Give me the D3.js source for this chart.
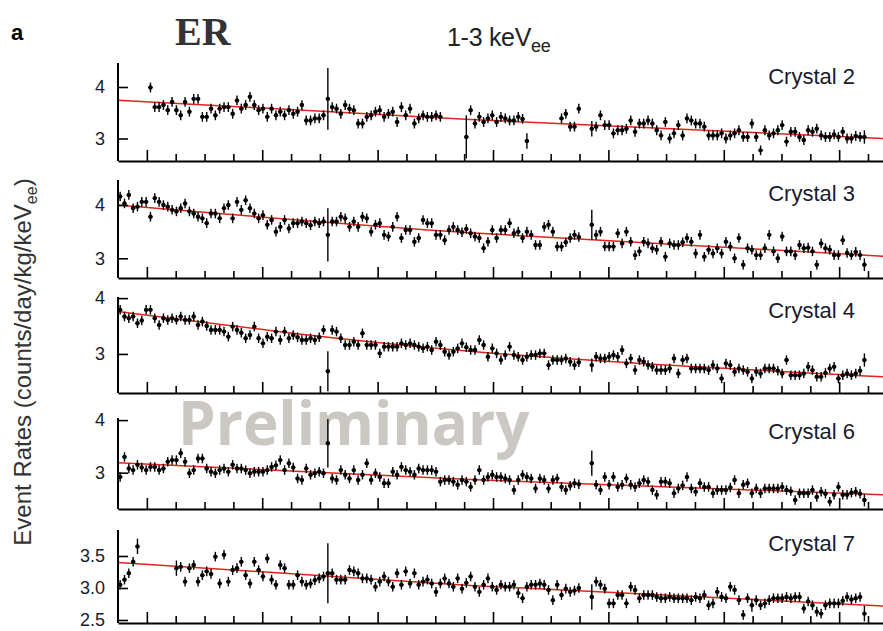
<!DOCTYPE html>
<html>
<head>
<meta charset="utf-8">
<script src="https://cdn.jsdelivr.net/npm/d3@7"></script>
<style>
  body { margin: 0; background: #fff; }
  svg { display: block; }
</style>
</head>
<body>
<svg id="chart" width="883" height="631"></svg>
<script>
// 15-day bins, index k -> bin centre at day 7.5 + 15k
const binDays = 15;
const crystals = ['Crystal 2', 'Crystal 3', 'Crystal 4', 'Crystal 6', 'Crystal 7'];

const rateC2 = [
  null,null,null,null,null,null,null,3.99,
  3.61,3.61,3.65,3.55,3.71,3.55,3.45,3.71,3.52,3.77,
  3.77,3.42,3.42,3.58,3.45,3.58,3.61,3.61,3.48,3.74,
  3.58,3.65,3.81,3.65,3.55,3.58,3.42,3.58,3.45,3.52,
  3.45,3.55,3.48,3.52,3.65,3.35,3.35,3.39,3.39,3.45,
  3.77,
  3.61,3.58,3.48,3.65,3.58,3.55,3.29,3.29,3.42,3.45,
  3.52,3.55,3.42,3.48,3.52,3.32,3.61,3.45,3.58,3.29,
  3.39,3.45,3.42,3.42,3.45,3.42,
  null,null,null,null,null,
  3.03,
  3.55,3.29,3.42,3.32,3.39,3.45,3.32,3.42,3.39,3.35,3.35,3.42,3.38,2.95,
  null,null,null,null,null,null,null,
  3.39,3.48,3.23,3.23,3.58,
  null,null,
  3.19,
  3.23,3.45,3.26,3.26,3.10,3.16,3.16,3.19,3.35,3.13,
  3.29,3.29,3.35,3.29,3.16,3.06,3.32,3.00,3.10,3.26,
  3.06,3.39,3.35,3.29,3.29,3.23,3.06,3.06,3.06,3.10,
  3.00,3.06,3.10,3.16,3.03,3.03,3.29,3.03,2.77,3.16,
  3.06,3.10,3.16,3.26,2.94,3.13,3.13,3.03,2.97,3.16,
  3.13,3.19,3.06,3.03,3.03,3.08,3.03,3.13,3.00,3.00,
  3.05,3.03,3.03
];

const rateC3 = [
  4.16,4.03,4.19,3.94,3.97,4.06,4.06,3.78,4.13,4.06,
  4.00,3.97,3.91,3.88,3.94,4.03,3.88,3.84,3.78,3.75,
  3.66,3.84,3.84,3.75,3.94,4.00,3.75,4.06,3.91,4.09,
  3.94,3.84,3.75,3.81,3.63,3.72,3.50,3.59,3.72,3.56,
  3.66,3.66,3.69,3.66,3.62,3.69,3.66,3.69,
  3.44,
  3.69,3.69,3.78,3.75,3.59,3.69,3.59,3.78,3.75,3.50,
  3.63,3.66,3.44,3.41,3.59,3.78,3.38,3.53,3.53,3.31,
  3.38,3.72,3.66,3.66,3.44,3.44,3.34,3.53,3.59,3.53,
  3.49,3.55,
  3.47,3.41,3.38,3.19,3.31,3.53,3.38,3.53,3.53,3.66,
  3.47,3.50,3.38,3.50,3.44,3.25,3.25,3.59,3.63,3.50,
  3.22,3.22,3.30,3.38,3.44,3.40,
  null,null,
  3.63,
  3.44,3.50,3.22,3.22,3.22,3.47,3.28,3.50,3.31,3.06,
  3.13,3.31,3.28,3.19,3.16,3.31,3.03,3.28,3.25,3.25,
  3.30,3.38,3.31,3.09,3.44,3.03,3.16,3.09,3.19,3.09,
  3.31,3.22,3.00,3.38,2.88,3.19,3.16,3.06,3.06,3.19,
  3.44,3.13,3.00,3.41,3.13,3.13,3.06,3.25,3.19,3.20,
  3.13,2.88,3.28,3.19,3.16,3.06,3.06,3.34,3.10,3.06,
  3.12,3.06,2.88
];

const rateC4 = [
  3.79,3.67,3.64,3.67,3.55,3.60,3.79,3.79,3.64,3.52,
  3.64,3.61,3.64,3.61,3.67,3.61,3.61,3.67,3.52,3.58,
  3.50,3.43,3.43,3.43,3.40,3.31,3.49,3.43,3.38,3.28,
  3.34,3.49,3.28,3.19,3.31,3.28,3.40,3.25,3.40,3.28,
  3.34,3.30,3.25,3.25,3.28,3.25,3.30,3.43,
  2.69,
  3.43,3.40,3.28,3.16,3.16,3.22,3.16,3.37,3.16,3.16,
  3.16,3.01,3.13,3.13,3.13,3.13,3.19,3.16,3.19,3.16,
  3.13,3.10,3.13,3.07,3.22,3.16,3.04,2.98,3.04,3.10,
  3.19,3.12,
  3.07,3.07,3.25,3.16,2.95,3.10,3.01,2.89,2.98,3.13,
  2.98,2.95,2.89,2.95,2.98,2.98,3.01,3.01,2.80,2.89,
  2.89,2.89,2.92,2.86,2.80,2.85,
  null,null,
  2.80,
  2.95,2.92,2.92,2.95,2.98,2.95,3.07,2.83,2.92,2.71,
  2.89,2.86,2.80,2.77,2.71,2.71,2.71,2.74,2.92,2.65,
  2.89,2.92,2.74,2.74,2.74,2.74,2.71,2.80,2.74,2.56,
  2.83,2.80,2.68,2.74,2.71,2.68,2.56,2.68,2.65,2.74,
  2.74,2.74,2.70,2.65,2.89,2.62,2.62,2.62,2.65,2.77,
  2.71,2.59,2.59,2.66,2.74,2.77,2.56,2.62,2.65,2.62,
  2.65,2.70,2.89
];

const rateC6 = [
  2.92,3.30,3.08,3.05,3.15,3.10,3.05,3.11,3.11,3.05,
  3.08,3.21,3.24,3.24,3.37,3.21,2.99,3.05,3.27,3.27,
  3.08,3.02,2.99,3.05,3.08,3.02,3.15,3.08,3.08,3.05,
  2.99,3.02,3.02,3.02,3.05,3.11,3.14,3.24,3.05,3.18,
  3.10,2.89,2.86,3.08,2.96,2.99,3.02,2.99,
  3.56,
  2.89,2.86,3.05,2.96,2.89,3.05,2.86,2.96,3.18,2.86,
  2.99,2.92,2.80,2.80,3.02,2.96,3.11,3.05,3.02,2.96,
  3.08,3.05,3.05,3.05,3.02,2.83,2.86,2.86,2.83,2.77,
  2.86,2.83,
  2.73,2.86,3.05,2.86,2.92,2.96,2.92,2.92,2.89,2.86,
  2.67,2.86,2.96,2.92,2.89,2.70,2.89,2.86,2.70,2.86,
  2.89,2.73,2.67,2.75,2.80,2.78,
  null,null,
  3.18,
  2.77,2.67,2.92,2.77,2.92,2.73,2.77,2.89,2.77,2.73,
  2.80,2.86,2.83,2.67,2.58,2.83,2.83,2.80,2.61,2.70,
  2.76,2.92,2.70,2.64,2.80,2.73,2.73,2.61,2.67,2.67,
  2.67,2.72,2.86,2.61,2.77,2.80,2.61,2.70,2.61,2.70,
  2.70,2.70,2.70,2.73,2.67,2.65,2.48,2.61,2.61,2.61,
  2.67,2.54,2.64,2.60,2.45,2.58,2.73,2.58,2.58,2.62,
  2.64,2.60,2.48
];

const rateC7 = [
  3.05,3.13,3.23,3.41,3.65,
  null,null,null,null,null,null,null,null,
  3.31,3.33,3.10,3.31,3.36,3.10,3.20,3.26,3.22,3.49,
  3.07,3.52,3.10,3.28,3.31,3.41,3.20,3.07,3.41,3.28,
  3.18,3.46,3.13,3.05,3.36,3.31,3.05,3.05,3.20,3.10,
  3.05,3.07,3.12,3.15,3.18,
  3.23,
  3.23,3.13,3.13,3.13,3.28,3.26,3.23,3.15,3.15,3.13,
  3.02,3.10,3.18,3.10,3.02,3.23,3.05,3.26,3.07,3.23,
  3.05,3.10,3.13,3.07,2.94,3.07,3.15,3.07,3.02,3.15,
  2.99,3.08,
  3.18,3.02,2.94,3.05,3.15,3.02,2.97,3.05,3.02,3.02,
  3.05,2.92,2.84,3.02,3.05,3.05,3.07,3.05,2.97,2.81,
  3.05,2.89,2.99,2.94,2.96,3.00,
  null,null,
  2.86,
  3.10,3.05,2.99,2.76,2.76,2.89,2.89,2.76,3.02,2.97,
  2.84,2.89,2.89,2.89,2.86,2.84,2.84,2.86,2.84,2.84,
  2.84,2.84,2.81,2.86,2.84,2.89,2.73,2.76,2.94,2.86,
  2.84,3.02,2.97,2.81,2.58,2.84,2.73,2.81,2.73,2.76,
  2.81,2.84,2.84,2.84,2.86,2.84,2.86,2.86,2.68,2.79,
  2.73,2.63,2.60,2.73,2.76,2.76,2.76,2.80,2.86,2.82,
  2.84,2.86,2.60
];

// typical one-sigma error per crystal, plus the bins with larger errors [bin, sigma]
const errBase = [0.095, 0.09, 0.085, 0.09, 0.075];
const errWideC2 = [[48, 0.6], [80, 0.42], [94, 0.15], [109, 0.15], [172, 0.13]];
const errWideC3 = [[48, 0.5], [109, 0.28], [172, 0.12]];
const errWideC4 = [[48, 0.36], [109, 0.12], [172, 0.12]];
const errWideC6 = [[48, 0.46], [109, 0.24], [172, 0.12]];
const errWideC7 = [[4, 0.12], [13, 0.12], [48, 0.47], [109, 0.2], [146, 0.1], [172, 0.12]];

// fitted decay curves, sampled at these days
const fitDays = [0, 1220, 2652];
const fitC2 = [3.745, 3.37, 3.00];
const fitC3 = [4.00, 3.48, 3.04];
const fitC4 = [3.76, 3.05, 2.59];
const fitC6 = [3.19, 2.87, 2.58];
const fitC7 = [3.40, 3.04, 2.72];

const yTicks = [[3, 4], [3, 4], [3, 4], [3, 4], [2.5, 3.0, 3.5]];
const xTicks = d3.range(100, 2700, 100);

const rates = [rateC2, rateC3, rateC4, rateC6, rateC7];
const errWide = [errWideC2, errWideC3, errWideC4, errWideC6, errWideC7];
const fits = [fitC2, fitC3, fitC4, fitC6, fitC7];

// layout
const panelTop = [63, 180, 297, 418, 530];
const panelBottom = [161, 278, 393, 509, 623];
const yDomain = [[2.563, 4.466], [2.63, 4.47], [2.30, 4.02], [2.31, 4.04], [2.453, 3.906]];

const svg = d3.select('#chart');
const x = d3.scaleLinear().domain([0, 2652]).range([118, 883]);

// watermark sits behind the data
svg.append('text')
  .attr('x', 178).attr('y', 445)
  .style('font', 'bold 60px "Open Sans", sans-serif')
  .style('fill', '#cbc7c2')
  .text('Preliminary');

// titles
svg.append('text')
  .attr('x', 11).attr('y', 40)
  .style('font', 'bold 22px "Liberation Sans", Arial, sans-serif')
  .text('a');

svg.append('text')
  .attr('x', 175).attr('y', 45)
  .style('font', 'bold 40px "Liberation Serif", serif')
  .style('fill', '#333')
  .text('ER');

const sub = svg.append('text')
  .attr('x', 447).attr('y', 46)
  .style('font', '25px "Liberation Sans", Arial, sans-serif')
  .style('letter-spacing', '-0.3px')
  .style('fill', '#222');
sub.append('tspan').text('1-3 keV');
sub.append('tspan').attr('dy', 6).style('font-size', '18px').text('ee');

const yl = svg.append('text')
  .attr('transform', 'translate(31,362) rotate(-90)')
  .attr('text-anchor', 'middle')
  .style('font', '24px "Liberation Sans", Arial, sans-serif')
  .style('fill', '#333');
yl.append('tspan').text('Event Rates (counts/day/kg/keV');
yl.append('tspan').attr('dy', 6).style('font-size', '16px').text('ee');
yl.append('tspan').attr('dy', -6).text(')');

crystals.forEach(function(name, p) {
  const y = d3.scaleLinear().domain(yDomain[p]).range([panelBottom[p], panelTop[p]]);
  const g = svg.append('g');
  const errMap = new Map(errWide[p]);

  // fit curve
  const line = d3.line()
    .x(function(d, i) { return x(fitDays[i]); })
    .y(function(d) { return y(d); })
    .curve(d3.curveNatural);
  g.append('path')
    .datum(fits[p])
    .attr('d', line)
    .attr('fill', 'none')
    .attr('stroke', '#e3231c')
    .attr('stroke-width', 1.5);

  const pts = rates[p]
    .map(function(v, k) { return {k: k, v: v, e: errMap.has(k) ? errMap.get(k) : errBase[p]}; })
    .filter(function(d) { return d.v !== null; });

  const pg = g.selectAll('g.pt').data(pts).enter().append('g').attr('class', 'pt');
  pg.append('line')
    .attr('x1', function(d) { return x(7.5 + binDays * d.k); })
    .attr('x2', function(d) { return x(7.5 + binDays * d.k); })
    .attr('y1', function(d) { return y(d.v - d.e); })
    .attr('y2', function(d) { return y(d.v + d.e); })
    .attr('stroke', '#000').attr('stroke-width', 1.4);
  pg.append('line')
    .attr('x1', function(d) { return x(d.k * binDays); })
    .attr('x2', function(d) { return x((d.k + 1) * binDays); })
    .attr('y1', function(d) { return y(d.v); })
    .attr('y2', function(d) { return y(d.v); })
    .attr('stroke', '#000').attr('stroke-width', 1.2);
  pg.append('circle')
    .attr('cx', function(d) { return x(7.5 + binDays * d.k); })
    .attr('cy', function(d) { return y(d.v); })
    .attr('r', 2.2)
    .attr('fill', '#000');

  // axes
  const ya = g.append('g')
    .attr('transform', 'translate(118,0)')
    .call(d3.axisLeft(y).tickValues(yTicks[p])
      .tickFormat(p === 4 ? d3.format('.1f') : d3.format('d'))
      .tickSize(-10).tickSizeOuter(0).tickPadding(13));
  ya.select('.domain').attr('stroke-width', 2).attr('d', 'M0,' + panelTop[p] + 'V' + panelBottom[p]);
  ya.selectAll('.tick line').attr('stroke-width', 1.6);
  ya.selectAll('.tick text')
    .style('font', '18px "Liberation Sans", Arial, sans-serif')
    .style('fill', '#1a1a2e');

  const xa = g.append('g')
    .attr('transform', 'translate(0,' + panelBottom[p] + ')')
    .call(d3.axisBottom(x).tickValues(xTicks).tickFormat('').tickSize(0).tickSizeOuter(0));
  xa.select('.domain').attr('stroke-width', 2.2);
  xa.selectAll('.tick line')
    .attr('y2', function(d) { return (d - 100) % 400 === 0 ? -11 : -7; })
    .attr('stroke-width', 1.6);

  g.append('text')
    .attr('x', 855).attr('y', panelTop[p] + 21)
    .attr('text-anchor', 'end')
    .style('font', '22px "Liberation Sans", Arial, sans-serif')
    .style('fill', '#1a1a2e')
    .text(name);
});
</script>
</body>
</html>
